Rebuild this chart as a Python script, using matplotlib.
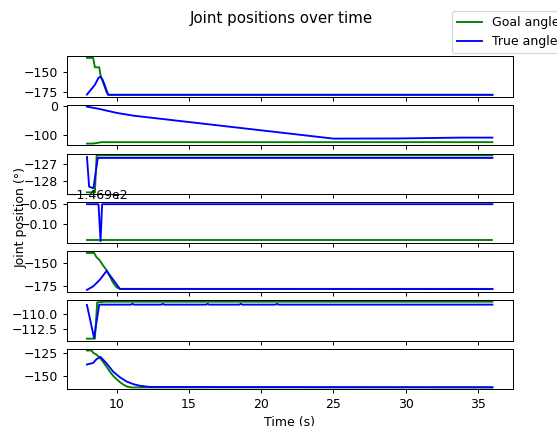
import matplotlib
matplotlib.use("Agg")
import matplotlib.pyplot as plt
from matplotlib.ticker import ScalarFormatter

# joint 1
goal_t1 = [7.95, 8.38, 8.50, 8.80, 8.89, 9.31, 9.42, 36.0]
goal_v1 = [-132.0, -132.0, -143.8, -143.8, -154.0, -175.0, -178.3, -178.3]
true_t1 = [7.95, 8.50, 8.75, 8.89, 9.05, 9.42, 36.0]
true_v1 = [-178.0, -165.8, -157.0, -155.5, -160.0, -178.3, -178.3]

# joint 2
goal_t2 = [7.95, 8.38, 8.96, 36.0]
goal_v2 = [-131.0, -131.0, -126.0, -126.0]
true_t2 = [7.95, 8.8, 10.0, 11.2, 25.0, 29.4, 33.8, 36.0]
true_v2 = [-1.0, -9.0, -23.0, -33.0, -113.5, -113.0, -110.0, -110.0]

# joint 3
goal_t3 = [7.95, 8.50, 8.62, 36.0]
goal_v3 = [-128.68, -128.68, -126.49, -126.49]
true_t3 = [7.95, 8.10, 8.40, 8.70, 36.0]
true_v3 = [-126.58, -128.34, -128.44, -126.64, -126.64]

# joint 4
goal_t4 = [7.95, 36.0]
goal_v4 = [-147.040, -147.040]
true_t4 = [7.95, 8.75, 8.89, 9.00, 36.0]
true_v4 = [-146.950, -146.950, -147.042, -146.950, -146.950]

# joint 5
goal_t5 = [7.95, 8.45, 8.61, 8.80, 8.96, 9.07, 9.31, 9.54, 9.77, 10.0, 10.23, 36.0]
goal_v5 = [-138.9, -138.9, -143.6, -146.4, -150.0, -152.8, -157.8, -165.0,
           -172.0, -176.8, -178.5, -178.5]
true_t5 = [7.95, 8.38, 8.84, 9.31, 9.77, 10.23, 36.0]
true_v5 = [-179.6, -175.7, -168.5, -158.6, -168.5, -178.5, -178.7]

# joint 6
goal_t6 = [7.95, 8.50, 8.66, 9.2, 36.0]
goal_v6 = [-114.19, -114.19, -107.95, -107.85, -107.85]
true_t6 = [7.95, 8.44, 8.80, 11.0, 11.1, 11.2, 13.1, 13.2, 13.3, 16.2, 16.3,
           16.4, 18.5, 18.6, 18.7, 21.0, 21.1, 21.2, 36.0]
true_v6 = [-108.4, -114.07, -108.35, -108.35, -108.2, -108.35, -108.35, -108.2,
           -108.35, -108.35, -108.2, -108.35, -108.35, -108.2, -108.35,
           -108.35, -108.2, -108.35, -108.35]

# joint 7
goal_t7 = [7.95, 8.27, 8.38, 8.61, 8.84, 9.07, 9.31, 9.54, 9.77, 10.0, 10.23,
           10.46, 10.69, 11.0, 36.0]
goal_v7 = [-122.6, -122.6, -125.0, -127.1, -130.3, -134.9, -140.2, -145.5,
           -150.0, -153.5, -156.7, -159.2, -161.3, -162.4, -162.4]
true_t7 = [7.95, 8.38, 8.61, 8.89, 9.31, 9.77, 10.23, 10.69, 11.15, 11.6, 12.3, 36.0]
true_v7 = [-137.7, -136.0, -132.0, -129.6, -136.6, -145.5, -151.4, -156.0,
           -158.8, -160.6, -161.9, -162.2]

goal_t = [goal_t1, goal_t2, goal_t3, goal_t4, goal_t5, goal_t6, goal_t7]
goal_v = [goal_v1, goal_v2, goal_v3, goal_v4, goal_v5, goal_v6, goal_v7]
true_t = [true_t1, true_t2, true_t3, true_t4, true_t5, true_t6, true_t7]
true_v = [true_v1, true_v2, true_v3, true_v4, true_v5, true_v6, true_v7]

fig, axes = plt.subplots(7, 1, sharex=True, figsize=(557 / 90, 426 / 90), dpi=90)
fig.subplots_adjust(left=0.1197, right=0.9204, top=0.8685, bottom=0.0862, hspace=0.2)

for i, ax in enumerate(axes):
    ax.plot(goal_t[i], goal_v[i], color='g', label='Goal angle')
    ax.plot(true_t[i], true_v[i], color='b', label='True angle')

# fixed offset on the nearly constant joint
axes[3].yaxis.set_major_formatter(ScalarFormatter(useOffset=-146.9))
axes[3].yaxis.get_offset_text().set_horizontalalignment('left')
axes[3].set_ylabel('Joint position (°)')
axes[3].yaxis.set_label_coords(-0.087, 0.62)
axes[-1].set_xlabel('Time (s)')

fig.suptitle('Joint positions over time', x=0.505, y=0.975)
h, l = axes[0].get_legend_handles_labels()
fig.legend(h, l, loc='upper left', bbox_to_anchor=(451.7 / 557, 1 - 11 / 426),
           borderaxespad=0)

fig.savefig('out.png', dpi=90)
